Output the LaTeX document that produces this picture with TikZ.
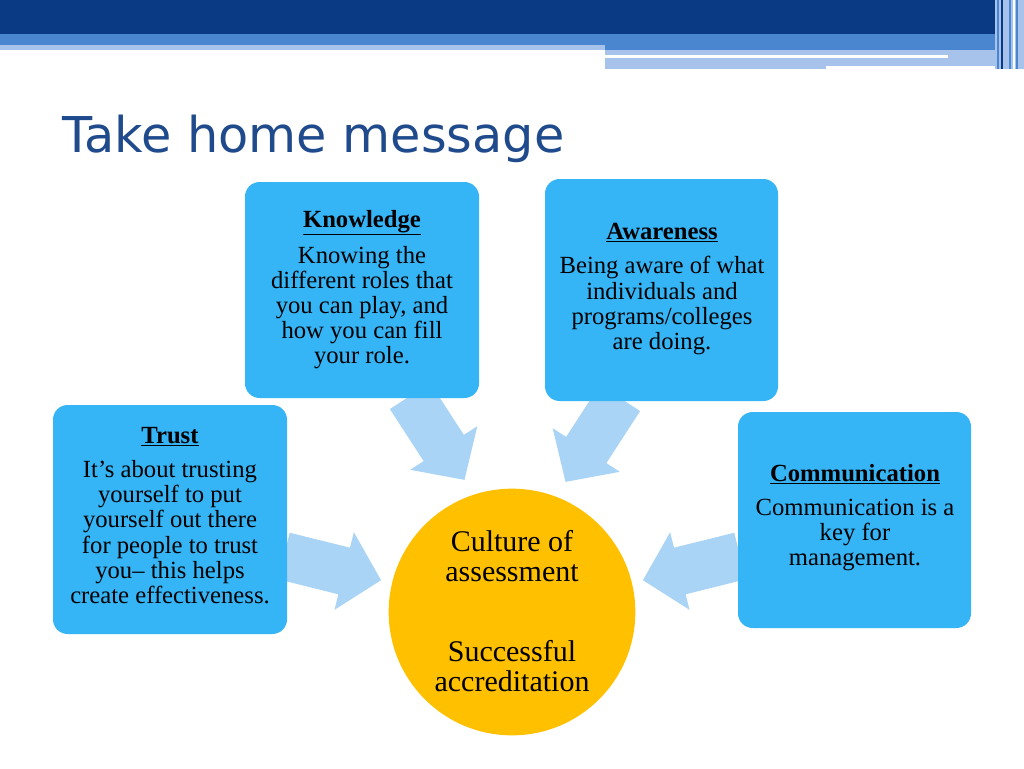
\documentclass[tikz,border=0pt]{standalone}
\usepackage{fontspec}
\setmainfont{Liberation Serif}
\newfontfamily\titlefont{DejaVu Sans}
\definecolor{dkblue}{HTML}{0A3A84}
\definecolor{midblue}{HTML}{4A86D0}
\definecolor{ltblue}{HTML}{A7C3EC}
\definecolor{boxblue}{HTML}{35B4F6}
\definecolor{arrowblue}{HTML}{A9D4F6}
\definecolor{gold}{HTML}{FFC000}
\definecolor{titleblue}{HTML}{1F4A8C}
\begin{document}
\begin{tikzpicture}[x=0.75pt,y=-0.75pt,
  box/.style={fill=boxblue,rounded corners=11pt,draw=none},
  btext/.style={align=center,font=\fontsize{18.5}{18.8}\selectfont,inner sep=0pt},
  barrowfill/.style={fill=arrowblue,draw=none}]
\useasboundingbox (0,0) rectangle (1024,768);
\fill[white] (0,0) rectangle (1024,768);
% header
\fill[dkblue] (0,0) rectangle (1024,34);
\fill[midblue] (0,34) rectangle (1000,50);
\fill[ltblue] (0,45) rectangle (605,50);
\fill[ltblue] (605,50) rectangle (1000,69);
\fill[white] (826,66) rectangle (1000,69);
\fill[white] (605,55) rectangle (948,58);
\fill[ltblue] (995,0) rectangle (1024,69);
\foreach \x/\c in {997/midblue,1001/dkblue,1005/ltblue,1009/midblue,1013/white,1016/midblue,1020/ltblue}
  \fill[\c] (\x,0) rectangle (\x+2,69);
% title
\node[anchor=base west,inner sep=0pt,text=titleblue,font=\titlefont\fontsize{37}{40}\selectfont] (title) at (62,152) {Take home message};
% arrows: tail at origin, pointing +x
\foreach \nm/\x/\y/\r in {a1/410/396/57, a2/620/398/123, a3/284/556/14, a4/740/556/166}{
  \begin{scope}[shift={(\x,\y)},rotate=-\r]
    \fill[barrowfill] (0,-24) -- (62,-24) -- (62,-40) -- (100,0) -- (62,40) -- (62,24) -- (0,24) -- cycle;
    \coordinate (\nm) at (100,0);
  \end{scope}}
% boxes
\fill[box] (245,182) rectangle (479,398);
\fill[box] (545,179) rectangle (778,401);
\fill[box] (53,405) rectangle (287,634);
\fill[box] (738,412) rectangle (971,628);
\node[btext,anchor=north] (know) at (362,210) {\textbf{\underline{Knowledge}}\\[7pt]Knowing the\\different roles that\\you can play, and\\how you can fill\\your role.};
\node[btext,anchor=north] (aware) at (662,223) {\textbf{\underline{Awareness}}\\[7pt]Being aware of what\\individuals and\\programs/colleges\\are doing.};
\node[btext,anchor=north] (trust) at (170,427) {\textbf{\underline{Trust}}\\[7pt]It’s about trusting\\yourself to put\\yourself out there\\for people to trust\\you– this helps\\create effectiveness.};
\node[btext,anchor=north] (comm) at (855,464) {\textbf{\underline{Communication}}\\[7pt]Communication is a\\key for\\management.};
% circle
\node[circle,fill=gold,minimum size=185pt,inner sep=0pt] (c) at (512,612) {};
\node[align=center,font=\fontsize{22.5}{22}\selectfont] (c1) at (512,556) {Culture of\\assessment};
\node[align=center,font=\fontsize{22.5}{22}\selectfont] (c2) at (512,666) {Successful\\accreditation};
\end{tikzpicture}
\end{document}
